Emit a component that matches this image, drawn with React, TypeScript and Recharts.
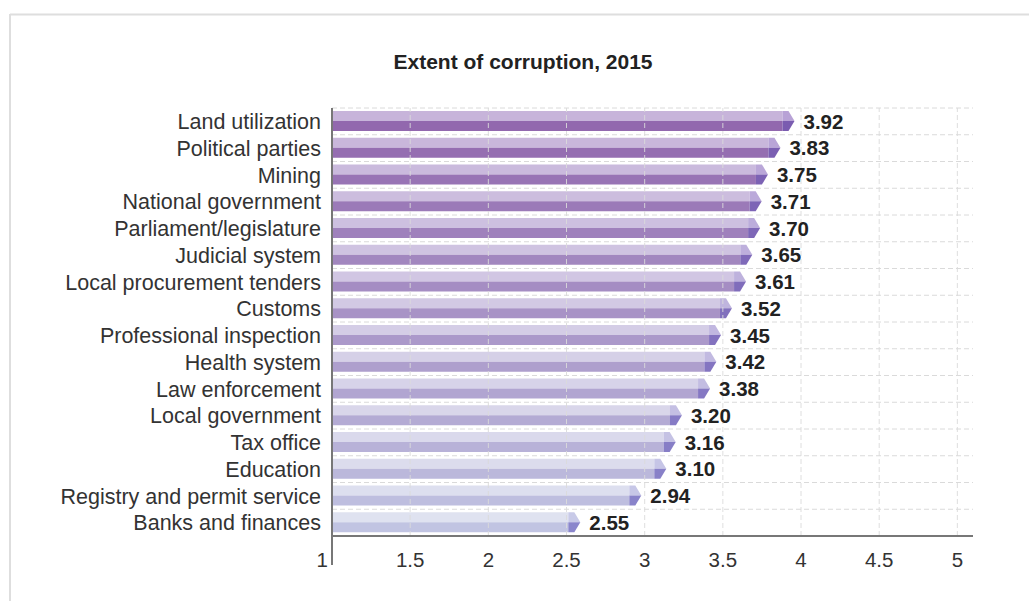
import { BarChart, Bar, XAxis, YAxis, CartesianGrid, LabelList, ReferenceLine } from 'recharts';

const categories = [
  'Land utilization',
  'Political parties',
  'Mining',
  'National government',
  'Parliament/legislature',
  'Judicial system',
  'Local procurement tenders',
  'Customs',
  'Professional inspection',
  'Health system',
  'Law enforcement',
  'Local government',
  'Tax office',
  'Education',
  'Registry and permit service',
  'Banks and finances',
];

const scores = [3.92, 3.83, 3.75, 3.71, 3.7, 3.65, 3.61, 3.52, 3.45, 3.42, 3.38, 3.2, 3.16, 3.1, 2.94, 2.55];

const xTicks = [1, 1.5, 2, 2.5, 3, 3.5, 4, 4.5, 5];
const xDomain = [1, 5.1];

const data = categories.map((name, i) => ({ name, value: scores[i] }));

const FONT = '"Liberation Sans", Arial, Helvetica, sans-serif';

// colour ramp from top row (purple) to bottom row (lavender blue)
const mix = (a: number[], b: number[], t: number) =>
  `rgb(${a.map((v, k) => Math.round(v + (b[k] - v) * t)).join(',')})`;
const LIGHT = [[199, 180, 218], [223, 226, 240]];
const DARK = [[146, 104, 174], [193, 196, 226]];
const TIP_LIGHT = [[184, 162, 214], [200, 202, 232]];
const TIP_DARK = [[122, 92, 176], [138, 134, 204]];

const ArrowBar = (props: any) => {
  const { x, y, width, height, index } = props;
  const t = index / (categories.length - 1);
  const end = x + width;
  const bodyEnd = end - 6;
  const tipEnd = end + 6;
  const mid = y + height / 2;
  return (
    <g>
      <rect x={x} y={y} width={bodyEnd - x} height={height / 2} fill={mix(LIGHT[0], LIGHT[1], t)} />
      <rect x={x} y={mid} width={bodyEnd - x} height={height / 2} fill={mix(DARK[0], DARK[1], t)} />
      <polygon
        points={`${bodyEnd},${y} ${end},${y} ${tipEnd},${mid} ${bodyEnd},${mid}`}
        fill={mix(TIP_LIGHT[0], TIP_LIGHT[1], t)}
      />
      <polygon
        points={`${bodyEnd},${mid} ${tipEnd},${mid} ${end},${y + height} ${bodyEnd},${y + height}`}
        fill={mix(TIP_DARK[0], TIP_DARK[1], t)}
      />
    </g>
  );
};

const ValueLabel = (props: any) => {
  const { x, y, width, height, value } = props;
  return (
    <text
      x={x + width + 15}
      y={y + height / 2}
      dominantBaseline="central"
      fontFamily={FONT}
      fontSize={20.5}
      fontWeight="bold"
      fill="#222"
    >
      {Number(value).toFixed(2)}
    </text>
  );
};

const XTick = (props: any) => {
  const { x, y, payload } = props;
  const first = payload.value === 1;
  return (
    <g>
      {first && <line x1={x} x2={x} y1={y} y2={y + 29} stroke="#777" strokeWidth={2} />}
      <text
        x={first ? x - 4 : x}
        y={y + 31}
        textAnchor={first ? 'end' : 'middle'}
        fontFamily={FONT}
        fontSize={20.5}
        fill="#333"
      >
        {payload.value}
      </text>
    </g>
  );
};

export default function App() {
  return (
    <div style={{ position: 'absolute', left: 0, top: 0, width: 1029, height: 601, background: '#fff' }}>
      <svg width={1029} height={601} style={{ position: 'absolute', left: 0, top: 0 }}>
        <line x1={10} x2={1029} y1={14.5} y2={14.5} stroke="#dedede" strokeWidth={2} />
        <line x1={10} x2={10} y1={14} y2={601} stroke="#dedede" strokeWidth={2} />
        <text x={523} y={69} textAnchor="middle" fontFamily={FONT} fontSize={21} fontWeight="bold" fill="#222">
          Extent of corruption, 2015
        </text>
      </svg>
      <div style={{ position: 'absolute', left: 0, top: 0 }}>
        <BarChart
          width={1029}
          height={601}
          data={data}
          layout="vertical"
          margin={{ top: 108, right: 56, bottom: 35, left: 10 }}
        >
          <CartesianGrid
            stroke="#dadada"
            strokeDasharray="5 3"
            vertical={false}
            horizontalCoordinatesGenerator={({ offset }: any) =>
              Array.from({ length: categories.length + 1 }, (_, i) => offset.top + (i * offset.height) / categories.length)
            }
          />
          {xTicks.slice(1).map((v) => (
            <ReferenceLine key={v} x={v} stroke="#dadada" strokeOpacity={0.9} strokeDasharray="5 3" />
          ))}
          <XAxis
            type="number"
            domain={xDomain}
            ticks={xTicks}
            allowDataOverflow
            height={30}
            tickLine={false}
            tickSize={0}
            tickMargin={0}
            axisLine={{ stroke: '#777', strokeWidth: 2 }}
            tick={<XTick />}
          />
          <YAxis
            type="category"
            dataKey="name"
            width={322}
            tickLine={false}
            tickMargin={5}
            interval={0}
            axisLine={{ stroke: '#777', strokeWidth: 2 }}
            tick={{ fontSize: 21.5, fill: '#333', fontFamily: FONT }}
          />
          <Bar dataKey="value" barSize={20} shape={<ArrowBar />} isAnimationActive={false}>
            <LabelList dataKey="value" content={<ValueLabel />} />
          </Bar>
        </BarChart>
      </div>
    </div>
  );
}
